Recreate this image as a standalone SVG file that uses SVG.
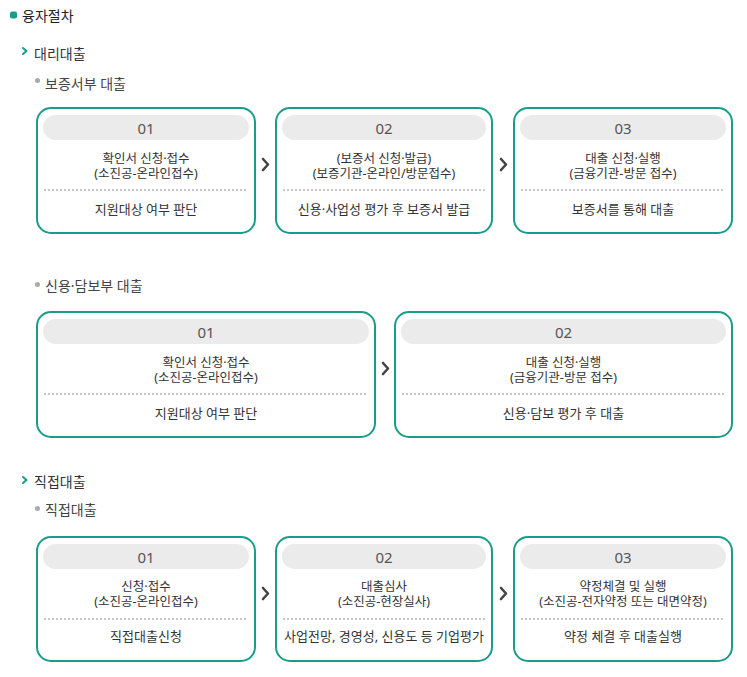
<svg xmlns="http://www.w3.org/2000/svg" width="747" height="677" viewBox="0 0 747 677">
<style>
text{font-family:"Noto Sans","Noto Sans CJK KR",sans-serif;fill:#333}
.h1{font-size:14px;fill:#222}
.h2{font-size:14px;fill:#333}
.h3{font-size:14px;fill:#444}
.box{fill:#fff;stroke:#1a9c8a;stroke-width:2}
.pill{fill:#ebebeb}
.num{font-size:15px;fill:#555;text-anchor:middle}
.t{font-size:12.5px;text-anchor:middle;fill:#333}
.b{font-size:13px;text-anchor:middle;fill:#333}
.dot{stroke:#b5b5b5;stroke-width:1.5;stroke-dasharray:2 2}
.arr{fill:none;stroke:#444;stroke-width:2.6;stroke-linecap:round;stroke-linejoin:round}
.tch{fill:none;stroke:#1a9c8a;stroke-width:2;stroke-linecap:round;stroke-linejoin:round}
</style>
<g id="headers">
<rect x="10" y="11.5" width="7" height="7" rx="2" fill="#1a9c8a"/>
<text class="h1" x="22" y="20.5">융자절차</text>
<path class="tch" d="M23,48 L26.5,51 L23,54"/>
<text class="h2" x="34" y="59">대리대출</text>
<circle cx="37.5" cy="80.5" r="2.5" fill="#aaa"/>
<text class="h3" x="45" y="88.5">보증서부 대출</text>
<circle cx="37.5" cy="284.5" r="2.5" fill="#aaa"/>
<text class="h3" x="45" y="290.5">신용·담보부 대출</text>
<path class="tch" d="M23,477 L26.5,480 L23,483"/>
<text class="h2" x="34" y="487">직접대출</text>
<circle cx="37.5" cy="508.5" r="2.5" fill="#aaa"/>
<text class="h3" x="45" y="515">직접대출</text>
</g>
<g id="connectors">
<path class="arr" d="M263,159 L268,164.5 L263,170"/>
<path class="arr" d="M501,159 L506,164.5 L501,170"/>
<path class="arr" d="M383,363 L388,368.5 L383,374"/>
<path class="arr" d="M263,588 L268,593.5 L263,599"/>
<path class="arr" d="M501,588 L506,593.5 L501,599"/>
</g>
<g id="n1-1">
<rect class="box" x="37" y="108" width="218" height="125" rx="14"/>
<rect class="pill" x="43" y="115" width="206" height="25" rx="12.5"/>
<text class="num" x="146" y="133.5">01</text>
<text class="t" x="146" y="163">확인서 신청·접수</text>
<text class="t" x="146" y="178">(소진공-온라인접수)</text>
<line class="dot" x1="44" y1="190" x2="248" y2="190"/>
<text class="b" x="146" y="213.5">지원대상 여부 판단</text>
</g>
<g id="n1-2">
<rect class="box" x="276" y="108" width="216" height="125" rx="14"/>
<rect class="pill" x="282" y="115" width="204" height="25" rx="12.5"/>
<text class="num" x="384" y="133.5">02</text>
<text class="t" x="384" y="163">(보증서 신청·발급)</text>
<text class="t" x="384" y="178">(보증기관-온라인/방문접수)</text>
<line class="dot" x1="283" y1="190" x2="485" y2="190"/>
<text class="b" x="384" y="213.5">신용·사업성 평가 후 보증서 발급</text>
</g>
<g id="n1-3">
<rect class="box" x="514" y="108" width="218" height="125" rx="14"/>
<rect class="pill" x="520" y="115" width="206" height="25" rx="12.5"/>
<text class="num" x="623" y="133.5">03</text>
<text class="t" x="623" y="163">대출 신청·실행</text>
<text class="t" x="623" y="178">(금융기관-방문 접수)</text>
<line class="dot" x1="521" y1="190" x2="725" y2="190"/>
<text class="b" x="623" y="213.5">보증서를 통해 대출</text>
</g>
<g id="n2-1">
<rect class="box" x="37" y="312" width="338" height="125" rx="14"/>
<rect class="pill" x="43" y="319" width="326" height="25" rx="12.5"/>
<text class="num" x="206" y="337.5">01</text>
<text class="t" x="206" y="367">확인서 신청·접수</text>
<text class="t" x="206" y="382">(소진공-온라인접수)</text>
<line class="dot" x1="44" y1="394" x2="368" y2="394"/>
<text class="b" x="206" y="417.5">지원대상 여부 판단</text>
</g>
<g id="n2-2">
<rect class="box" x="395" y="312" width="337" height="125" rx="14"/>
<rect class="pill" x="401" y="319" width="325" height="25" rx="12.5"/>
<text class="num" x="563.5" y="337.5">02</text>
<text class="t" x="563.5" y="367">대출 신청·실행</text>
<text class="t" x="563.5" y="382">(금융기관-방문 접수)</text>
<line class="dot" x1="402" y1="394" x2="725" y2="394"/>
<text class="b" x="563.5" y="417.5">신용·담보 평가 후 대출</text>
</g>
<g id="n3-1">
<rect class="box" x="37" y="537" width="218" height="124" rx="14"/>
<rect class="pill" x="43" y="544" width="206" height="25" rx="12.5"/>
<text class="num" x="146" y="562.5">01</text>
<text class="t" x="146" y="591">신청·접수</text>
<text class="t" x="146" y="606">(소진공-온라인접수)</text>
<line class="dot" x1="44" y1="619" x2="248" y2="619"/>
<text class="b" x="146" y="641">직접대출신청</text>
</g>
<g id="n3-2">
<rect class="box" x="276" y="537" width="216" height="124" rx="14"/>
<rect class="pill" x="282" y="544" width="204" height="25" rx="12.5"/>
<text class="num" x="384" y="562.5">02</text>
<text class="t" x="384" y="591">대출심사</text>
<text class="t" x="384" y="606">(소진공-현장실사)</text>
<line class="dot" x1="283" y1="619" x2="485" y2="619"/>
<text class="b" x="384" y="641">사업전망, 경영성, 신용도 등 기업평가</text>
</g>
<g id="n3-3">
<rect class="box" x="514" y="537" width="218" height="124" rx="14"/>
<rect class="pill" x="520" y="544" width="206" height="25" rx="12.5"/>
<text class="num" x="623" y="562.5">03</text>
<text class="t" x="623" y="591">약정체결 및 실행</text>
<text class="t" x="623" y="606">(소진공-전자약정 또는 대면약정)</text>
<line class="dot" x1="521" y1="619" x2="725" y2="619"/>
<text class="b" x="623" y="641">약정 체결 후 대출실행</text>
</g>
</svg>
